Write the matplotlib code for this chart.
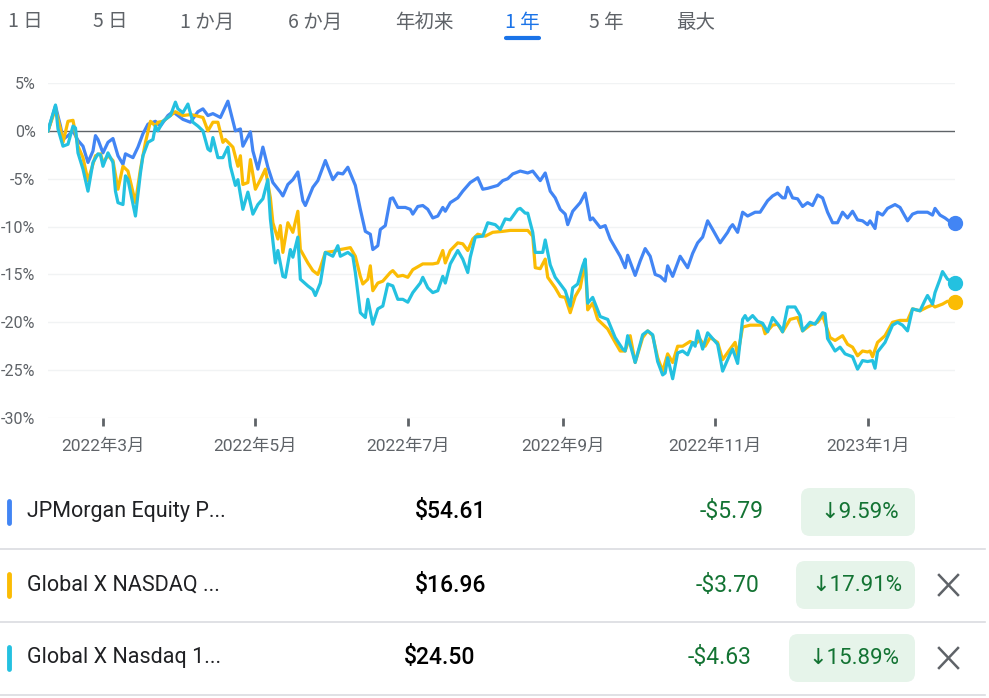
import numpy as np
import pandas as pd
import matplotlib
matplotlib.use('Agg')
import matplotlib.pyplot as plt
import matplotlib.dates as mdates
from matplotlib.patches import FancyBboxPatch
from matplotlib.lines import Line2D

plt.rcParams['font.family'] = ['Roboto', 'Noto Sans CJK JP', 'DejaVu Sans']

START = pd.Timestamp('2022-02-07')

# JPMorgan Equity Premium Income (% change, days since start)
jpm_days = [0, 3, 5, 6, 8, 10, 12, 14, 16, 18, 19, 20, 22, 24, 26, 28, 30, 31, 34, 36,
            38, 40, 43, 45, 48, 50, 54, 57, 60, 62, 64, 66, 69, 72, 75, 77, 78, 81, 82, 84,
            86, 88, 90, 93, 94, 96, 98, 100, 102, 103, 106, 108, 111, 114, 116, 118, 120, 123, 125, 127,
            129, 130, 132, 133, 135, 137, 138, 140, 143, 145, 146, 148, 150, 152, 154, 156, 158, 159, 161, 164,
            166, 169, 172, 174, 176, 180, 182, 184, 186, 189, 192, 194, 197, 199, 201, 203, 205, 207, 208, 210,
            213, 215, 217, 218, 221, 223, 225, 227, 229, 231, 232, 235, 237, 239, 241, 243, 245, 247, 248, 250,
            252, 253, 256, 258, 260, 262, 264, 266, 269, 272, 273, 274, 276, 278, 280, 283, 285, 288, 290, 292,
            294, 295, 296, 298, 300, 302, 304, 306, 308, 310, 312, 314, 316, 318, 320, 322, 324, 326, 328, 329,
            331, 332, 334, 336, 339, 341, 344, 346, 348, 352, 354, 355, 357, 359, 361, 363]
jpm_pct = [0, 2.6, 0.5, -0.9, -0.5, 0, -1.0, -1.6, -3.3, -2.1, -0.5, -0.9, -2.3, -1.2, -0.8, -2.6, -3.5, -2.4, -2.8, -1.7,
           -0.3, 0.7, 1.0, 0.5, 1.6, 2.0, 1.2, 0.9, 2.0, 2.3, 1.6, 1.8, 1.4, 3.1, 0, 0.2, -1.6, -0.1, -2.1, -4.0,
           -1.7, -3.8, -5.4, -6.4, -6.8, -5.6, -5.1, -4.3, -7.3, -7.8, -5.9, -5.2, -3.1, -5.1, -4.4, -4.5, -3.8, -5.7, -8.2, -10.5,
           -10.8, -12.4, -12.0, -10.3, -9.9, -7.1, -7.0, -8.0, -8.0, -8.2, -8.7, -7.9, -7.8, -8.2, -9.1, -8.9, -8.0, -8.4, -7.5, -7.0,
           -6.3, -5.4, -4.9, -6.1, -6.0, -5.7, -5.2, -5.0, -4.5, -4.2, -4.4, -4.2, -5.2, -4.4, -6.3, -7.0, -8.2, -8.7, -9.8, -8.4,
           -7.5, -6.5, -9.3, -9.1, -10.1, -9.9, -11.3, -12.2, -13.1, -14.3, -13.0, -15.1, -13.6, -12.3, -13.1, -15.0, -15.2, -15.7, -14.1, -15.2,
           -13.8, -13.1, -14.3, -12.8, -11.7, -11.1, -9.4, -10.3, -11.7, -10.6, -10.1, -9.8, -10.6, -8.5, -8.9, -8.5, -8.5, -7.3, -6.8, -6.5,
           -7.0, -7.0, -5.9, -7.0, -7.1, -7.9, -7.5, -7.8, -6.7, -7.0, -8.5, -9.6, -9.6, -8.5, -9.1, -8.4, -9.3, -9.4, -9.8, -9.4,
           -10.2, -8.5, -8.8, -8.1, -7.7, -8.0, -9.4, -8.7, -8.5, -8.5, -8.8, -8.1, -8.8, -9.1, -9.5, -9.59]

# Global X NASDAQ 100 Covered Call
qyld_days = [0, 3, 5, 6, 8, 10, 12, 14, 16, 19, 21, 22, 24, 26, 28, 30, 32, 35, 37, 39,
             41, 43, 44, 46, 49, 51, 54, 57, 59, 62, 64, 66, 68, 70, 71, 74, 76, 77, 78, 80,
             81, 83, 85, 87, 89, 90, 92, 93, 94, 96, 98, 100, 101, 104, 106, 108, 109, 111, 114, 117,
             121, 123, 125, 126, 128, 129, 130, 132, 134, 137, 138, 140, 142, 144, 146, 150, 154, 156, 158, 159,
             161, 164, 166, 168, 170, 172, 175, 178, 182, 185, 192, 194, 195, 197, 199, 200, 203, 205, 207, 209,
             211, 213, 215, 216, 218, 220, 224, 227, 229, 231, 233, 235, 238, 240, 242, 244, 246, 248, 250, 252,
             254, 257, 259, 261, 263, 265, 268, 270, 273, 275, 276, 278, 281, 286, 287, 290, 292, 294, 297, 300,
             302, 305, 308, 310, 313, 315, 318, 320, 322, 324, 326, 328, 329, 330, 332, 335, 338, 341, 344, 346,
             349, 352, 354, 355, 358, 360, 363]
qyld_pct = [0, 2.3, 0.2, -1.2, 1.0, 1.1, -1.6, -2.8, -5.2, -2.6, -2.4, -3.3, -2.6, -3.1, -6.1, -3.7, -4.2, -7.5, -4.0, -1.2,
            1.0, 0.5, 0.9, 1.0, 1.6, 2.0, 1.6, 1.7, 1.6, 1.4, 0, 0.9, 0.9, -1.2, -0.9, -1.7, -3.7, -2.6, -5.6, -5.4,
            -3.0, -6.1, -5.1, -4.0, -7.0, -9.6, -11.3, -9.9, -12.7, -9.6, -10.6, -8.4, -12.4, -13.8, -14.6, -15.0, -14.3, -12.7, -12.6, -12.4,
            -12.2, -13.1, -15.2, -16.0, -15.5, -14.1, -16.7, -15.9, -15.7, -14.8, -14.6, -15.2, -15.1, -15.3, -14.5, -13.9, -13.9, -13.8, -12.5, -13.8,
            -12.5, -11.7, -11.8, -12.5, -11.3, -10.8, -11.0, -10.6, -10.5, -10.4, -10.4, -11.0, -14.3, -14.4, -13.4, -15.3, -16.4, -17.3, -17.4, -19.0,
            -17.3, -16.4, -13.6, -18.7, -18.0, -19.7, -20.7, -22.1, -23.0, -23.0, -21.4, -24.2, -21.6, -20.9, -21.4, -23.7, -25.1, -23.3, -24.2, -22.5,
            -22.5, -22.0, -22.3, -21.8, -22.5, -21.6, -22.1, -23.9, -22.8, -22.1, -23.5, -20.5, -20.3, -20.3, -21.2, -20.3, -20.2, -21.0, -19.7, -19.5,
            -20.9, -20.3, -20.0, -19.3, -21.6, -21.9, -21.4, -22.3, -22.6, -23.5, -23.0, -23.1, -23.0, -23.6, -22.1, -21.4, -20.0, -19.8, -19.8, -18.6,
            -18.8, -18.4, -18.2, -18.4, -18.1, -17.8, -17.91]

# Global X Nasdaq 100 Covered Call & Growth
qylg_days = [0, 3, 4, 6, 8, 10, 11, 12, 14, 16, 18, 20, 21, 22, 24, 26, 27, 28, 30, 31,
             32, 35, 37, 38, 40, 42, 43, 44, 46, 49, 51, 52, 54, 56, 58, 60, 62, 64, 65, 66,
             68, 70, 72, 73, 75, 76, 78, 80, 82, 84, 86, 88, 89, 91, 92, 94, 95, 97, 98, 100,
             101, 104, 106, 107, 109, 111, 114, 116, 117, 120, 122, 123, 125, 127, 128, 130, 132, 134, 136, 138,
             140, 142, 144, 146, 149, 150, 152, 154, 156, 158, 159, 161, 164, 166, 168, 169, 171, 174, 176, 179,
             181, 183, 185, 188, 189, 191, 192, 194, 195, 198, 199, 201, 203, 205, 207, 209, 210, 212, 214, 215,
             216, 218, 221, 224, 227, 230, 231, 232, 235, 238, 240, 242, 244, 246, 247, 248, 250, 252, 254, 256,
             258, 259, 260, 262, 264, 268, 270, 272, 273, 274, 276, 278, 279, 280, 282, 284, 286, 288, 290, 293,
             294, 296, 299, 301, 302, 305, 307, 310, 311, 312, 315, 317, 319, 322, 324, 326, 328, 330, 331, 332,
             335, 338, 340, 342, 344, 346, 349, 351, 352, 354, 355, 357, 358, 360, 363]
qylg_pct = [0, 2.7, 0.2, -1.6, -1.4, 0.5, 0.3, -2.3, -4.0, -6.3, -3.3, -2.4, -2.5, -3.7, -2.3, -3.3, -6.3, -7.5, -7.7, -4.7,
            -5.1, -8.9, -4.4, -2.6, -1.2, -0.9, 0.5, 0, 1.0, 1.6, 3.0, 2.3, 1.9, 2.8, 0.9, 0.5, 0, -1.9, -2.1, -0.7,
            -2.8, -2.8, -1.7, -3.7, -5.7, -5.1, -8.2, -6.4, -8.7, -7.7, -7.1, -5.1, -9.2, -13.8, -12.5, -15.2, -15.3, -12.4, -13.2, -11.1,
            -15.5, -16.2, -16.6, -17.2, -15.9, -12.7, -13.1, -12.0, -13.1, -12.7, -13.1, -14.8, -19.0, -19.5, -17.6, -20.2, -18.6, -18.3, -16.0, -16.2,
            -17.6, -17.6, -17.9, -16.9, -15.9, -15.3, -16.4, -16.9, -16.7, -15.2, -15.9, -13.9, -12.5, -13.4, -14.8, -13.2, -11.1, -11.0, -9.6, -9.8,
            -10.3, -9.2, -9.3, -8.2, -8.1, -8.6, -8.6, -10.6, -12.7, -12.7, -11.4, -14.0, -15.3, -16.0, -16.7, -18.3, -16.4, -16.0, -14.1, -13.4,
            -18.0, -17.4, -19.4, -19.7, -21.6, -22.8, -23.0, -21.4, -24.2, -21.3, -20.9, -21.3, -24.1, -25.5, -25.3, -23.7, -25.9, -23.2, -23.0, -23.4,
            -22.1, -22.5, -20.9, -22.8, -21.1, -22.3, -25.1, -23.9, -23.3, -22.8, -24.3, -19.7, -19.3, -19.8, -19.3, -19.9, -20.1, -21.0, -19.5, -20.5,
            -21.0, -18.4, -18.4, -19.3, -20.9, -20.0, -20.2, -19.0, -19.1, -21.7, -23.0, -22.6, -23.3, -23.6, -24.9, -24.0, -24.1, -24.0, -24.8, -23.1,
            -22.1, -20.3, -20.0, -20.3, -20.9, -18.6, -18.8, -17.7, -17.2, -18.1, -16.9, -15.5, -14.7, -15.5, -15.89]

names = ['JPMorgan Equity P...', 'Global X NASDAQ ...', 'Global X Nasdaq 1...']
prices = ['$54.61', '$16.96', '$24.50']
changes = ['-$5.79', '-$3.70', '-$4.63']
pct_changes = ['9.59%', '17.91%', '15.89%']
colors = ['#4285f4', '#fbbc04', '#24c1e0']

tabs = ['1 日', '5 日', '1 か月', '6 か月', '年初来', '1 年', '5 年', '最大']
active_tab = '1 年'

W, H = 989, 698
fig = plt.figure(figsize=(W / 100, H / 100), dpi=100)

# chart area in pixels: x 48..955, y 83..418
ax = fig.add_axes([48 / W, 1 - 418 / H, (955 - 48) / W, (418 - 83) / H])
ax.set_ylim(-30, 5)
ax.set_xlim(START, START + pd.Timedelta(days=363))

for lvl in range(-30, 6, 5):
    if lvl == 0:
        ax.axhline(0, color='#5f6368', lw=1.0, zorder=2)
    else:
        ax.axhline(lvl, color='#f1f3f4', lw=1.0, zorder=1)

series = [(jpm_days, jpm_pct), (qyld_days, qyld_pct), (qylg_days, qylg_pct)]
for (days, pct), c in zip(series, colors):
    d = START + pd.to_timedelta(days, unit='D')
    ax.plot(d, pct, color=c, lw=2.3, zorder=3, solid_joinstyle='round')
    ax.plot(d[-1:], pct[-1:], 'o', color=c, ms=10, zorder=4, clip_on=False)

for s in ax.spines.values():
    s.set_visible(False)

ax.set_yticks(range(-30, 6, 5))
ax.set_yticklabels([f'{v}%' for v in range(-30, 6, 5)])
ax.tick_params(axis='y', length=0, pad=9, labelsize=11.5, labelcolor='#5f6368')

ax.xaxis.set_major_locator(mdates.MonthLocator(bymonth=[1, 3, 5, 7, 9, 11]))
ax.xaxis.set_major_formatter(plt.FuncFormatter(
    lambda v, _: f'{mdates.num2date(v).year}年{mdates.num2date(v).month}月'))
ax.tick_params(axis='x', length=6, width=2, color='#5f6368', pad=9,
               labelsize=12.5, labelcolor='#5f6368')
ax.patch.set_alpha(0)

# overlay for tabs and the table, in pixel units
ui = fig.add_axes([0, 0, 1, 1], zorder=-1)
ui.set_xlim(0, W)
ui.set_ylim(H, 0)
ui.axis('off')

tab_x = [25, 110, 207, 315, 424, 522, 606, 696]
for t, x in zip(tabs, tab_x):
    col = '#1a73e8' if t == active_tab else '#5f6368'
    ui.text(x, 22, t, ha='center', va='center', fontsize=14, color=col,
            family=['Noto Sans CJK JP', 'DejaVu Sans'])
ui.add_line(Line2D([506, 539], [38, 38], color='#1a73e8', lw=3, solid_capstyle='round'))

row_y = [512, 585, 658]
price_l = [415, 415, 404]
change_r = [764, 759, 751]
chip_l = [801, 796, 789]
for i in range(3):
    y = row_y[i]
    ui.add_line(Line2D([9, 9], [y - 11, y + 11], color=colors[i], lw=3.5, solid_capstyle='round'))
    ui.text(27, y, names[i], ha='left', va='center', fontsize=15.5, color='#202124')
    ui.text(price_l[i], y, prices[i], ha='left', va='center', fontsize=16.5,
            color='#000000', fontweight='medium')
    ui.text(change_r[i], y, changes[i], ha='right', va='center', fontsize=16.5, color='#137333')
    chip = FancyBboxPatch((chip_l[i] + 9, y - 15), 915 - chip_l[i] - 18, 30,
                          boxstyle='round,pad=9', fc='#e6f4ea', ec='none')
    ui.add_patch(chip)
    ui.text((chip_l[i] + 915) / 2 + 2, y, '↓' + pct_changes[i], ha='center', va='center',
            fontsize=16, color='#137333', family=['Roboto', 'DejaVu Sans'])
    if i > 0:
        ui.add_line(Line2D([939, 958], [y - 10, y + 10], color='#5f6368', lw=1.8))
        ui.add_line(Line2D([939, 958], [y + 10, y - 10], color='#5f6368', lw=1.8))
    ui.add_line(Line2D([0, 985], [y + 37, y + 37], color='#dadce0', lw=1.2))

fig.savefig('out.png', dpi=100)
